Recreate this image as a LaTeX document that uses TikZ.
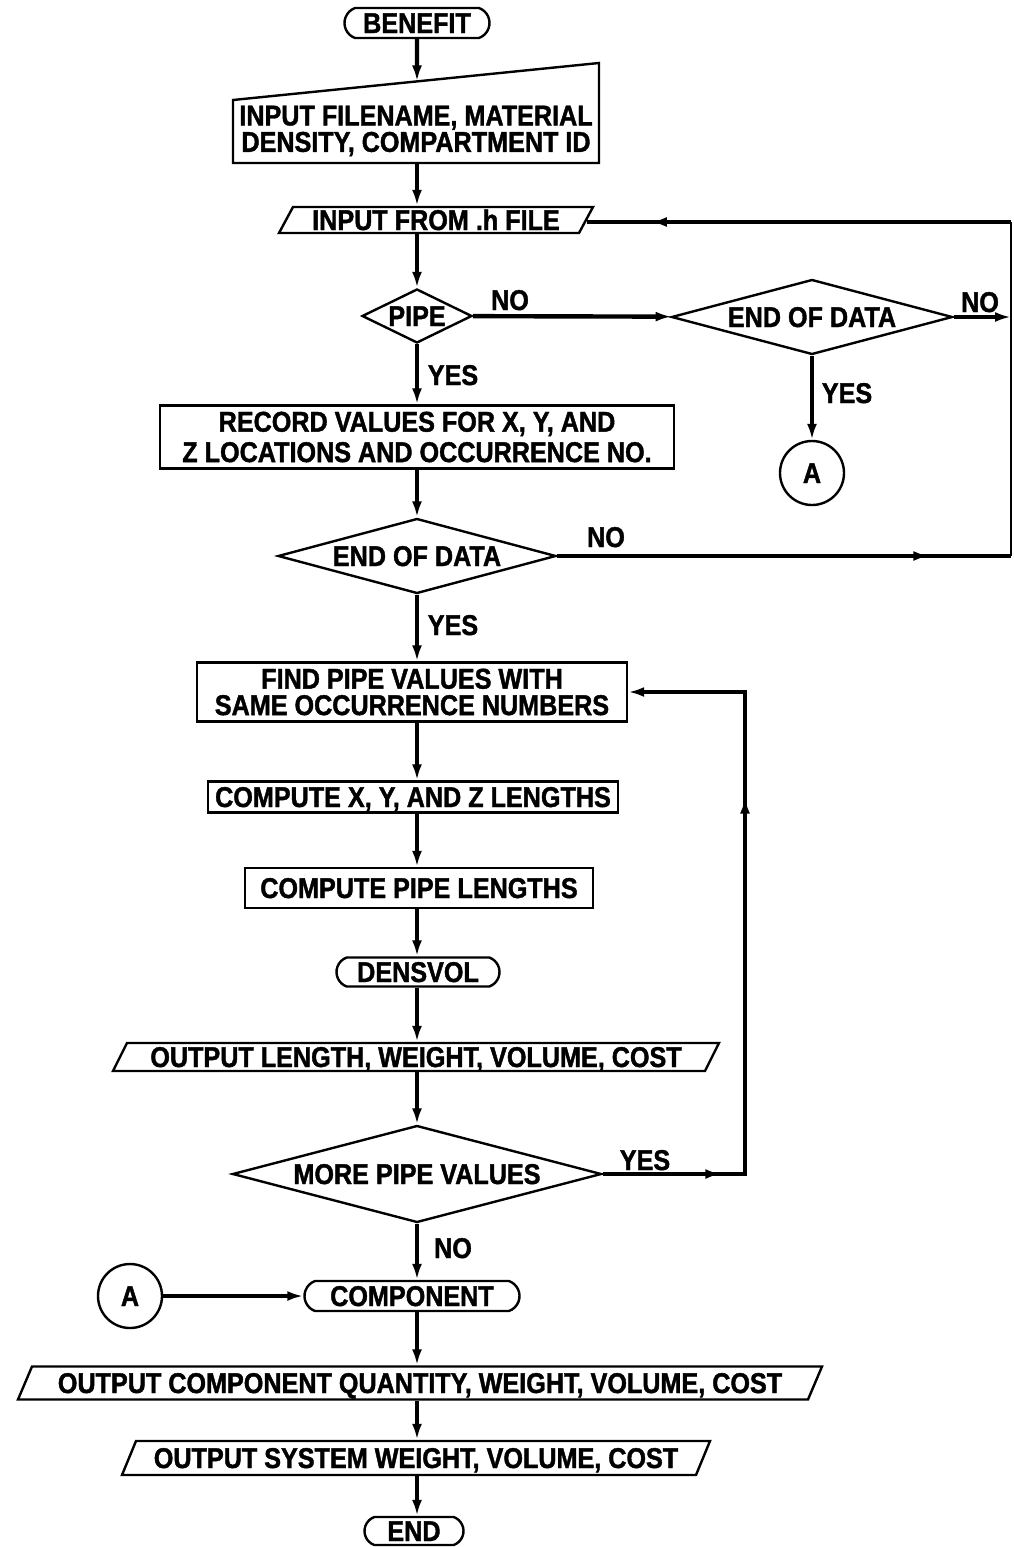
\documentclass[tikz,border=0pt]{standalone}
\usepackage{fontspec}
\newfontfamily\chartfont{Liberation Sans}[FakeStretch=0.88,BoldFeatures={FakeBold=1.4}]
\usetikzlibrary{shapes.geometric,shapes.misc,arrows.meta,decorations.markings}

\tikzset{
  chart/.style={font=\chartfont\bfseries\fontsize{14.3}{13.2}\selectfont},
  capline/.style={text height=10pt,text depth=0pt},
  procbox/.style={draw,line width=1.2pt,rectangle,inner sep=0pt,align=center},
  termbox/.style={draw,line width=1.2pt,rounded rectangle,rounded rectangle arc length=140,inner sep=0pt,capline},
  iobox/.style={draw,line width=1.2pt,trapezium,trapezium left angle=55,trapezium right angle=125,
                trapezium stretches body,inner sep=0pt,capline},
  decide/.style={draw,line width=1.2pt,diamond,inner sep=0pt,capline},
  joinpt/.style={draw,line width=1.2pt,circle,minimum size=32pt,inner sep=0pt,capline},
  lbl/.style={inner sep=0pt,capline},
  flow/.style={line width=2.2pt,-{Latex[length=8pt,width=5pt]}},
  flowmid/.style={line width=2.2pt,postaction={decorate},
    decoration={markings,mark=at position #1 with {\arrow{Latex[length=8pt,width=5pt]}}}},
}

\begin{document}
\begin{tikzpicture}[x=0.5pt,y=-0.5pt,chart]
\useasboundingbox (0,0) rectangle (1013,1547);
% terminals and boxes down the main spine
\node[termbox,minimum width=72.5pt,minimum height=15pt] (benefit) at (417,23) {BENEFIT};
\node[align=center,inner sep=0pt] (inpfile) at (416,131) {INPUT FILENAME, MATERIAL\\DENSITY, COMPARTMENT ID};
\draw[line width=1.2pt] (233,100) -- (599,63) -- (599,163) -- (233,163) -- cycle;
\coordinate (inptop) at (417,81.4);
\coordinate (inpbot) at (417,163);
\node[iobox,minimum width=157pt,minimum height=13pt] (hfile) at (436,220) {INPUT FROM .h FILE};
\node[decide,aspect=2,minimum width=55pt,minimum height=27pt] (pipe) at (417,316) {PIPE};
\node[decide,aspect=3.7,minimum width=140.5pt,minimum height=37.5pt] (eod1) at (812,317) {END OF DATA};
\node[joinpt] (conA1) at (812,473) {A};
\node[procbox,minimum width=257pt,minimum height=31.5pt] (record) at (417,437)
  {RECORD VALUES FOR X, Y, AND\\[2pt]Z LOCATIONS AND OCCURRENCE NO.};
\node[decide,aspect=3.7,minimum width=139pt,minimum height=37.5pt] (eod2) at (417,556) {END OF DATA};
\node[procbox,minimum width=215pt,minimum height=29.5pt] (findpipe) at (412,692)
  {FIND PIPE VALUES WITH\\SAME OCCURRENCE NUMBERS};
\node[procbox,capline,minimum width=205pt,minimum height=15.5pt] (compxyz) at (413,797) {COMPUTE X, Y, AND Z LENGTHS};
\node[procbox,capline,minimum width=174pt,minimum height=20pt] (comppipe) at (419,888) {COMPUTE PIPE LENGTHS};
\node[termbox,minimum width=81.5pt,minimum height=14.5pt] (densvol) at (418,972) {DENSVOL};
\node[iobox,minimum width=303pt,minimum height=14pt] (outlen) at (416,1057) {OUTPUT LENGTH, WEIGHT, VOLUME, COST};
\node[decide,aspect=3.8,minimum width=184.5pt,minimum height=48.5pt] (morepipe) at (417,1174) {MORE PIPE VALUES};
\node[joinpt] (conA2) at (130,1296) {A};
\node[termbox,minimum width=107.5pt,minimum height=15pt] (component) at (412,1296) {COMPONENT};
\node[iobox,minimum width=402pt,minimum height=16.5pt] (outcomp) at (420,1383)
  {OUTPUT COMPONENT QUANTITY, WEIGHT, VOLUME, COST};
\node[iobox,minimum width=294pt,minimum height=17pt] (outsys) at (416,1458) {OUTPUT SYSTEM WEIGHT, VOLUME, COST};
\node[termbox,minimum width=49.5pt,minimum height=14pt] (endn) at (414,1531) {END};
% branch labels
\foreach \t/\x/\y/\n in {NO/510/300/noA, YES/453/375/yesA, NO/980/302/noB, YES/847/393/yesB,
                         NO/606/537/noC, YES/453/625/yesC, YES/645/1160/yesD, NO/453/1248/noD}{
  \node[lbl] (\n) at (\x,\y) {\t};}
% spine connectors (all on x = 417)
\coordinate (spine) at (417,0);
\draw[flow] (benefit) -- (inptop);
\draw[flow] (inpbot) -- (inpbot |- hfile.north);
\draw[flow] (hfile.south -| spine) -- (pipe);
\foreach \a/\b in {pipe/record, record/eod2, eod2/findpipe, findpipe/compxyz, compxyz/comppipe,
                   comppipe/densvol, densvol/outlen, outlen/morepipe, morepipe/component,
                   component/outcomp, outcomp/outsys, outsys/endn}{
  \draw[flow] (\a.south -| spine) -- (\b.north -| spine);}
% side branches
\draw[flow] (pipe) -- (eod1);
\draw[flow] (eod1) -- (conA1);
\draw[flow] (conA2) -- (component);
% return rail on the right edge
\coordinate (railmid) at (1011,317);
\coordinate (railbot) at (1011,556);
\coordinate (railtop) at (1011,222);
\draw[flow] (eod1) -- (railmid);
\draw[flowmid=0.82] (eod2) -- (railbot);
\draw[line width=0.8pt] (railbot) -- (railtop);
\draw[flowmid=0.85] (railtop) -- (railtop -| hfile.east);
% loop back for more pipe values
\coordinate (loopbot) at (745,1174);
\coordinate (looptop) at (745,692);
\draw[flow,postaction={decorate},decoration={markings,
  mark=at position 0.16 with {\arrow{Latex[length=8pt,width=5pt]}},
  mark=at position 0.70 with {\arrow{Latex[length=8pt,width=5pt]}}}]
  (morepipe) -- (loopbot) -- (looptop) -- (findpipe);
\end{tikzpicture}
\end{document}
